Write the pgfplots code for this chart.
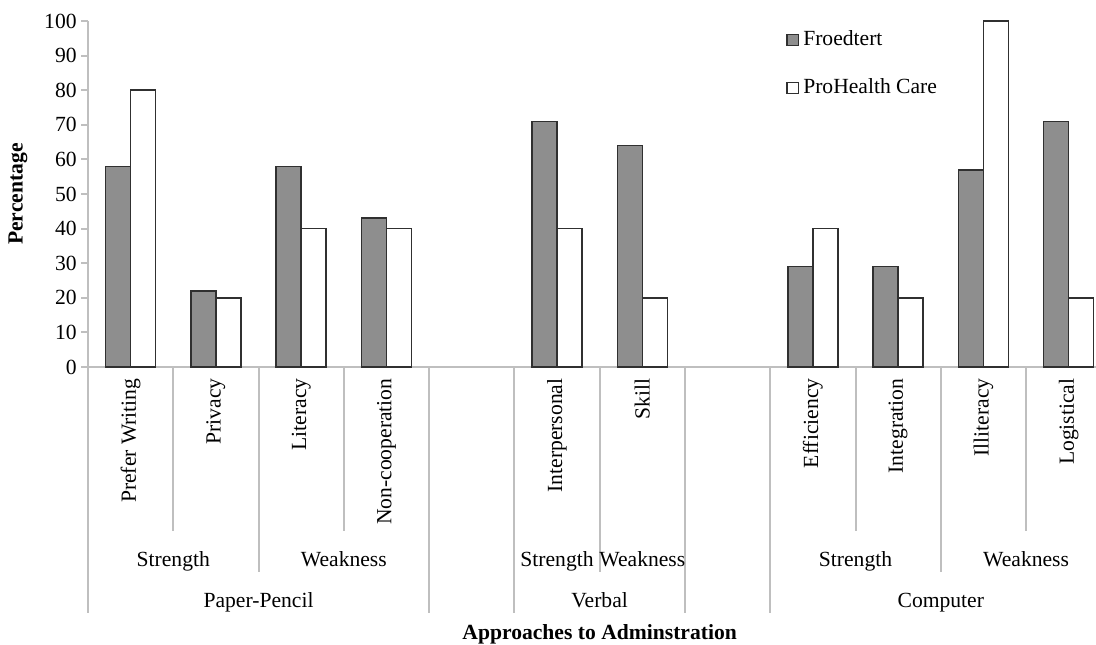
\documentclass[border=0pt]{standalone}
\usepackage{fontspec}
\setmainfont{Liberation Serif}
\usepackage{pgfplots}
\pgfplotsset{compat=1.18}
\definecolor{barg}{HTML}{8E8E8E}
\definecolor{axg}{HTML}{BFBFBF}
\definecolor{edge}{HTML}{303030}
\begin{document}
\fontsize{10.8}{13}\selectfont
\begin{tikzpicture}
\begin{axis}[
  name=ax,
  x=42.635pt, y=1.73pt,
  xmin=-0.5, xmax=11.32, ymin=0, ymax=100,
  axis x line*=bottom, axis y line*=left,
  axis line style={axg, line width=1pt},
  ytick={0,10,...,100},
  xtick={0,1,2,3,5,6,8,9,10,11},
  xticklabels={Prefer Writing, Privacy, Literacy, Non-cooperation, Interpersonal, Skill, Efficiency, Integration, Illiteracy, Logistical},
  x tick style={draw=none},
  y tick style={axg, line width=1pt},
  tick align=outside,
  major tick length=3.5pt,
  /pgf/number format/assume math mode=true,
  xticklabel style={rotate=90, anchor=east, inner sep=2pt},
  yticklabel style={inner sep=2pt},
  every axis y label/.style={at={(axis description cs:0,0.5)}, xshift=-35pt, rotate=90, anchor=center},
  ylabel={\textbf{Percentage}},
  ybar=0pt, bar width=12.5pt,
  clip=false,
  legend style={at={(0.6925,0.985)}, anchor=north west, draw=none, fill=none, row sep=11pt, inner sep=0pt, cells={anchor=west}},
  legend image code/.code={\draw[#1, line width=0.6pt] (0pt,-2.8pt) rectangle (5.8pt,2.8pt);},
]
\addplot[fill=barg, draw=edge, line width=0.75pt] coordinates {(0,58)(1,22)(2,58)(3,43)(5,71)(6,64)(8,29)(9,29)(10,57)(11,71)};
\addplot[fill=white, draw=edge, line width=0.75pt] coordinates {(0,80)(1,20)(2,40)(3,40)(5,40)(6,20)(8,40)(9,20)(10,100)(11,20)};
\legend{Froedtert, ProHealth Care}
% divider lines
\pgfplotsinvokeforeach{0.5,2.5,8.5,10.5}{\draw[axg, line width=1pt] (axis cs:#1,0) -- ([yshift=-82pt]axis cs:#1,0);}
\pgfplotsinvokeforeach{1.5,5.5,9.5}{\draw[axg, line width=1pt] (axis cs:#1,0) -- ([yshift=-102.5pt]axis cs:#1,0);}
\pgfplotsinvokeforeach{-0.5,3.5,4.5,6.5,7.5}{\draw[axg, line width=1pt] (axis cs:#1,0) -- ([yshift=-123pt]axis cs:#1,0);}
% group labels
\node[inner sep=0pt, anchor=base] at ([yshift=-99.5pt]axis cs:0.5,0) {Strength};
\node[inner sep=0pt, anchor=base] at ([yshift=-99.5pt]axis cs:2.5,0) {Weakness};
\node[inner sep=0pt, anchor=base] at ([yshift=-99.5pt]axis cs:5,0) {Strength};
\node[inner sep=0pt, anchor=base] at ([yshift=-99.5pt]axis cs:6,0) {Weakness};
\node[inner sep=0pt, anchor=base] at ([yshift=-99.5pt]axis cs:8.5,0) {Strength};
\node[inner sep=0pt, anchor=base] at ([yshift=-99.5pt]axis cs:10.5,0) {Weakness};
\node[inner sep=0pt, anchor=base] at ([yshift=-120pt]axis cs:1.5,0) {Paper-Pencil};
\node[inner sep=0pt, anchor=base] at ([yshift=-120pt]axis cs:5.5,0) {Verbal};
\node[inner sep=0pt, anchor=base] at ([yshift=-120pt]axis cs:9.5,0) {Computer};
\node[inner sep=0pt, anchor=base] at ([yshift=-136pt]axis cs:5.5,0) {\textbf{Approaches to Adminstration}};
\coordinate (sw) at (rel axis cs:0,0);
\coordinate (ne) at (rel axis cs:1,1);
\end{axis}
\pgfresetboundingbox
\path[use as bounding box] ([xshift=-44pt, yshift=-138.5pt]sw) rectangle ([yshift=10.5pt]ne);
\end{tikzpicture}
\end{document}
